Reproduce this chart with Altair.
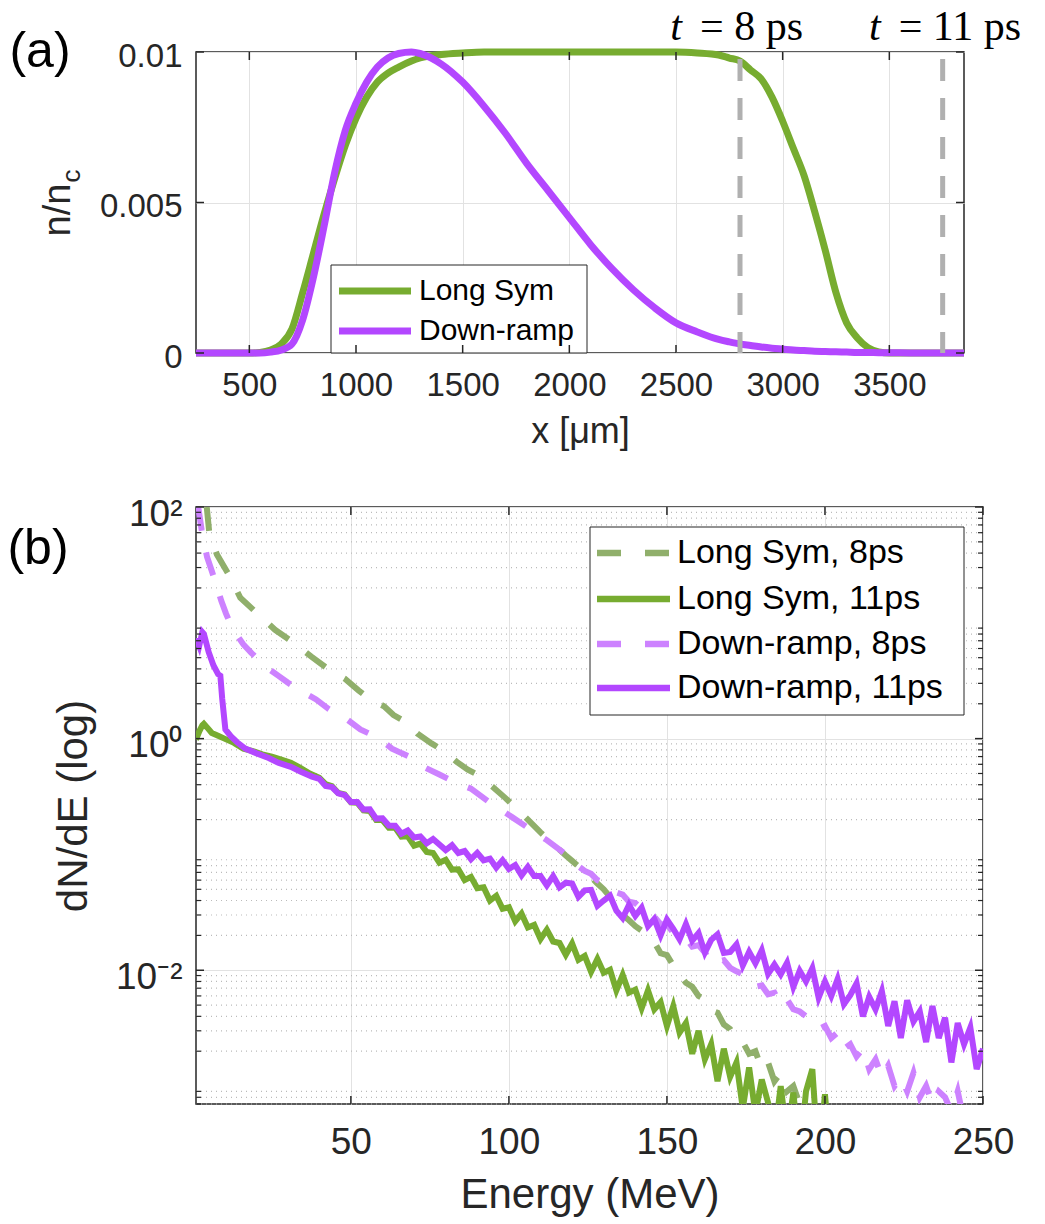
import altair as alt
import pandas as pd

FONT = "Liberation Sans"
SERIF = "Liberation Serif"
AX = "#262626"
GRID = "#E2E2E2"
GREEN = "#77AC30"
GREEN_LIGHT = "#90AF6B"
PURPLE = "#B347FF"
PURPLE_LIGHT = "#CD82FF"
GRAY = "#B0B0B0"

# ---------------- panel (a) data ----------------
x_um = [250, 400, 500, 550, 600, 650, 700, 750, 800, 850,
        900, 950, 1000, 1050, 1100, 1150, 1200, 1260, 1300, 1400,
        1500, 1600, 1700, 1800, 1900, 2000, 2100, 2200, 2300, 2400,
        2500, 2600, 2700, 2750, 2800, 2850, 2900, 2950, 3000, 3050,
        3100, 3150, 3200, 3250, 3300, 3350, 3400, 3450, 3500, 3600,
        3700, 3850]
long_sym = [0, 0, 0, 0.00002, 0.0001, 0.0003, 0.0008, 0.0020, 0.0033, 0.0046,
            0.0058, 0.0069, 0.0078, 0.0085, 0.0090, 0.0093, 0.0095, 0.0097, 0.0098, 0.00992,
            0.00997, 0.01, 0.01, 0.01, 0.01, 0.01, 0.01, 0.01, 0.01, 0.01,
            0.01, 0.00997, 0.0099, 0.0098, 0.0097, 0.0094, 0.0091, 0.0085, 0.0077, 0.0068,
            0.0059, 0.0047, 0.0034, 0.0020, 0.0010, 0.0005, 0.00018, 0.00004, 0, 0,
            0, 0]
down_ramp = [0, 0, 0, 0, 0.00003, 0.0001, 0.0003, 0.0011, 0.0025, 0.0042,
             0.0060, 0.0074, 0.0083, 0.0090, 0.0095, 0.0098, 0.00995, 0.0100, 0.00995, 0.0096,
             0.0090, 0.0082, 0.0073, 0.0063, 0.0054, 0.0045, 0.0036, 0.0028, 0.0021, 0.0015,
             0.0010, 0.0007, 0.00045, 0.00037, 0.0003, 0.00025, 0.0002, 0.00016, 0.00013, 0.0001,
             0.00008, 0.00006, 0.00005, 0.00004, 0.00003, 0.00002, 0.00002, 0.00001, 0.00001, 0,
             0, 0]
names_a = ["Long Sym", "Down-ramp"]
t_lines = [2800, 3750]
t_rest = ["=  8 ps", "=  11 ps"]
xa_ticks = [500, 1000, 1500, 2000, 2500, 3000, 3500]
ya_ticks = [0, 0.005, 0.01]

# ---------------- panel (b) data ----------------
ls8_E = [4.4, 5.2, 7.6, 11.4, 15, 20, 26, 32, 37.5, 42.5, 48, 52.5, 56, 60.5, 63.5,
         68, 71, 75.5, 79.5, 83.5, 87, 90, 95, 99, 106, 110, 113.7, 118, 120] + list(range(122, 198, 2))
ls8_V = [100, 60, 39, 26, 16.5, 12.3, 8.7, 6.7, 5.1, 4.05, 3.3, 2.6, 2.2, 1.9, 1.6,
         1.36, 1.11, 0.91, 0.78, 0.63, 0.54, 0.49, 0.38, 0.305, 0.20, 0.155, 0.125, 0.098, 0.088,
         0.079, 0.070, 0.064, 0.056, 0.050, 0.043, 0.037, 0.030, 0.027, 0.024,
         0.022, 0.019, 0.0175, 0.014, 0.0135, 0.011, 0.0092, 0.0078, 0.0072, 0.0060,
         0.0056, 0.0045, 0.0043, 0.0034, 0.0031, 0.0025, 0.0024, 0.0019, 0.0020, 0.0014,
         0.0016, 0.0011, 0.0013, 0.0009, 0.0010, 0.0007, 0.0008, 0.0005]

ls11_E = [1, 2, 3, 3.5, 4.5, 6, 8, 10, 13, 16, 19, 22, 25, 28, 31, 34, 37] + list(range(40, 204, 2))
ls11_V = [0.98, 1.15, 1.30, 1.34, 1.25, 1.12, 1.06, 1.0, 0.92, 0.82, 0.78, 0.73, 0.70, 0.66, 0.62, 0.56, 0.50,
          0.46, 0.404, 0.389, 0.339, 0.33, 0.282, 0.28, 0.24, 0.237, 0.198,
          0.198, 0.17, 0.171, 0.1425, 0.1435, 0.119, 0.124, 0.105, 0.103, 0.085,
          0.090, 0.074, 0.0745, 0.060, 0.064, 0.051, 0.052, 0.040, 0.044, 0.034,
          0.035, 0.0264, 0.0308, 0.0234, 0.0246, 0.0186, 0.0224, 0.0177, 0.0172, 0.0136,
          0.017, 0.0123, 0.0133, 0.0097, 0.0125, 0.0095, 0.0101, 0.0067, 0.0091, 0.0064,
          0.0068, 0.0047, 0.0067, 0.0046, 0.0053, 0.0033, 0.0049, 0.0029, 0.0035, 0.0019,
          0.003, 0.0017, 0.0023, 0.0011, 0.0021, 0.0012, 0.0016, 0.00064, 0.00145, 0.00058,
          0.00114, 0.00072, 0.00036, 0.001, 0.00036, 0.00088, 0.00025, 0.0009, 0.0014, 0.00022,
          0.00085, 0.0002]

dr8_E = [1.7, 2.8, 4.5, 6, 7.5, 9, 10.5, 12, 14, 16, 18.5, 21.5, 24, 27, 30, 33, 36, 39, 43, 46,
         49, 53, 56, 59, 63, 66, 69, 73, 78, 83, 88, 94, 101, 106, 112, 118] + list(range(120, 248, 2))
dr8_V = [100, 63, 37, 28, 21, 15.5, 12, 9.6, 7.8, 6.5, 5.5, 4.6, 4.0, 3.5, 3.05, 2.7, 2.42, 2.18, 1.8, 1.6,
         1.45, 1.2, 1.1, 1.0, 0.82, 0.75, 0.69, 0.57, 0.49, 0.42, 0.37, 0.28, 0.21, 0.17, 0.133, 0.10,
         0.086, 0.079, 0.072, 0.068, 0.060, 0.057, 0.052, 0.047, 0.045, 0.039,
         0.038, 0.034, 0.031, 0.029, 0.025, 0.025, 0.021, 0.020, 0.019, 0.016,
         0.0165, 0.0142, 0.015, 0.0118, 0.0122, 0.0105, 0.0098, 0.0092, 0.0086, 0.0072,
         0.0074, 0.0062, 0.0064, 0.0050, 0.0056, 0.0046, 0.0044, 0.0040, 0.0036, 0.0031,
         0.0033, 0.0026, 0.0029, 0.0021, 0.0023, 0.0018, 0.0021, 0.0014, 0.0017, 0.0012,
         0.0015, 0.0010, 0.0012, 0.0009, 0.0013, 0.0008, 0.0010, 0.0007, 0.0009, 0.0008,
         0.0006, 0.0009, 0.0005, 0.0004]

dr11_E = [1, 2, 3, 3.5, 5, 6.5, 8, 8.7, 9.3, 10.3, 12, 14, 16.6, 20, 24, 27, 31, 34, 37.7] + list(range(40, 252, 2))
dr11_V = [7.4, 6.3, 8.3, 8.0, 5.6, 4.3, 3.6, 3.5, 2.2, 1.2, 1.05, 0.93, 0.82, 0.75, 0.68, 0.62, 0.57, 0.52, 0.47,
          0.45, 0.39, 0.382, 0.337, 0.326, 0.284, 0.284, 0.244, 0.245, 0.204,
          0.205, 0.178, 0.177, 0.151, 0.161, 0.140, 0.143, 0.125, 0.136, 0.122,
          0.109, 0.120, 0.103, 0.107, 0.091, 0.103, 0.089, 0.092, 0.077, 0.089,
          0.075, 0.081, 0.066, 0.078, 0.065, 0.065, 0.054, 0.065, 0.052, 0.057,
          0.056, 0.043, 0.049, 0.0495, 0.036, 0.040, 0.044, 0.0327, 0.0282, 0.0366,
          0.0295, 0.0347, 0.024, 0.0277, 0.020, 0.0274, 0.0228, 0.0185, 0.025, 0.018,
          0.0209, 0.0142, 0.0183, 0.0204, 0.0141, 0.0144, 0.0167, 0.011, 0.0144, 0.0115,
          0.0149, 0.0093, 0.0112, 0.0092, 0.0116, 0.0072, 0.0099, 0.008, 0.0104, 0.0058,
          0.008, 0.006, 0.0084, 0.0051, 0.0061, 0.0077, 0.004, 0.0059, 0.0046, 0.0066,
          0.0033, 0.0054, 0.0026, 0.0055, 0.0036, 0.0044, 0.0024, 0.0049, 0.0026, 0.0039,
          0.0016, 0.0035, 0.0023, 0.0032, 0.0014, 0.0021]

names_b = ["Long Sym, 8ps", "Long Sym, 11ps", "Down-ramp, 8ps", "Down-ramp, 11ps"]
xb_ticks = [50, 100, 150, 200, 250]
yb_ticks = [0.01, 1, 100]
yb_minor = [k * 10.0 ** e for e in range(-4, 2) for k in range(2, 10) if 0.0007 <= k * 10.0 ** e <= 100]

for a, b in [(ls8_E, ls8_V), (ls11_E, ls11_V), (dr8_E, dr8_V), (dr11_E, dr11_V)]:
    assert len(a) == len(b), (len(a), len(b))

WA, HA = 768, 301
WB, HB = 787, 597
one = pd.DataFrame({"k": [0]})

# ---------------- panel (a) ----------------
xa = alt.Scale(domain=[250, 3850], nice=False, zero=False)
ya = alt.Scale(domain=[0, 0.01], nice=False, zero=False)
dfa = pd.DataFrame({"x": x_um, "ls": long_sym, "dr": down_ramp})

axis_xa = alt.Axis(values=xa_ticks, format="d", title="x [μm]", grid=True, gridColor=GRID,
                   ticks=False, domain=False, labelFont=FONT, labelFontSize=33, labelColor=AX,
                   labelPadding=16, labelFlush=False, labelOverlap=False, titleFont=FONT,
                   titleFontSize=36, titleFontWeight="normal", titleColor=AX, titlePadding=12)
axis_ya = alt.Axis(values=ya_ticks, format=".3~f", title=None, grid=True, gridColor=GRID,
                   ticks=False, domain=False, labelFont=FONT, labelFontSize=33, labelColor=AX,
                   labelPadding=14, labelOffset=4, labelOverlap=False)


def XA(f):
    return alt.X(f, scale=xa, axis=axis_xa)


def YA(f):
    return alt.Y(f, scale=ya, axis=axis_ya)


layers_a = []
layers_a.append(alt.Chart(dfa).mark_line(color=GREEN, strokeWidth=7, interpolate="monotone").encode(
    x=XA("x:Q"), y=YA("ls:Q")))
layers_a.append(alt.Chart(dfa).mark_line(color=PURPLE, strokeWidth=7, interpolate="monotone").encode(
    x=XA("x:Q"), y=YA("dr:Q")))
layers_a.append(alt.Chart(pd.DataFrame({"x": t_lines})).mark_rule(color=GRAY, strokeWidth=5, strokeDash=[22, 17]).encode(
    x=XA("x:Q"), y=alt.value(7), y2=alt.value(HA)))
for pos, rest, dxt, dxr in zip(t_lines, t_rest, [-58, -62], [-40, -44]):
    d = pd.DataFrame({"x": [pos]})
    layers_a.append(alt.Chart(d).mark_text(text="t", font=SERIF, fontSize=42, fontStyle="italic", align="right",
                                           baseline="alphabetic", dx=dxt, color="black").encode(
        x=XA("x:Q"), y=alt.value(-12)))
    layers_a.append(alt.Chart(d).mark_text(text=rest, font=SERIF, fontSize=42, align="left",
                                           baseline="alphabetic", dx=dxr, color="black").encode(
        x=XA("x:Q"), y=alt.value(-12)))
# legend (a)
layers_a.append(alt.Chart(one).mark_rect(fill="white", stroke=AX, strokeWidth=1).encode(
    x=alt.value(135), x2=alt.value(391), y=alt.value(213), y2=alt.value(HA)))
for i, (nm, col) in enumerate(zip(names_a, [GREEN, PURPLE])):
    yy = 239 + 40 * i
    layers_a.append(alt.Chart(one).mark_rule(color=col, strokeWidth=7).encode(
        x=alt.value(143), x2=alt.value(215), y=alt.value(yy)))
    layers_a.append(alt.Chart(one).mark_text(text=nm, font=FONT, fontSize=30, align="left", baseline="middle",
                                             color="black").encode(x=alt.value(223), y=alt.value(yy)))
# inner ticks (a)
dxt_a = pd.DataFrame({"x": xa_ticks})
dyt_a = pd.DataFrame({"y": ya_ticks})
for y0, y1 in [(0, 8), (HA - 8, HA)]:
    layers_a.append(alt.Chart(dxt_a).mark_rule(color=AX, strokeWidth=1.5).encode(
        x=XA("x:Q"), y=alt.value(y0), y2=alt.value(y1)))
for x0, x1 in [(0, 8), (WA - 8, WA)]:
    layers_a.append(alt.Chart(dyt_a).mark_rule(color=AX, strokeWidth=1.5).encode(
        y=YA("y:Q"), x=alt.value(x0), x2=alt.value(x1)))
# y title and panel tag
layers_a.append(alt.Chart(one).mark_text(text="n/n", font=FONT, fontSize=38, angle=270, align="center",
                                         baseline="middle", color=AX).encode(x=alt.value(-137), y=alt.value(158)))
layers_a.append(alt.Chart(one).mark_text(text="c", font=FONT, fontSize=26, angle=270, align="center",
                                         baseline="middle", color=AX).encode(x=alt.value(-124), y=alt.value(124)))
layers_a.append(alt.Chart(one).mark_text(text="(a)", font=FONT, fontSize=50, align="center",
                                         baseline="middle", color="black").encode(x=alt.value(-156), y=alt.value(0)))

top = alt.layer(*layers_a).properties(width=WA, height=HA)

# ---------------- panel (b) ----------------
xb = alt.Scale(domain=[1, 250], nice=False, zero=False)
yb = alt.Scale(type="log", domain=[0.0007, 100], nice=False)

axis_xb = alt.Axis(values=xb_ticks, format="d", title="Energy (MeV)", grid=True, gridColor=GRID,
                   ticks=False, domain=False, labelFont=FONT, labelFontSize=37, labelColor=AX,
                   labelPadding=20, labelFlush=False, labelOverlap=False, titleFont=FONT,
                   titleFontSize=42, titleFontWeight="normal", titleColor=AX, titlePadding=14)
axis_yb = alt.Axis(values=yb_ticks, title="dN/dE (log)", grid=True, gridColor=GRID,
                   labelExpr="datum.value >= 50 ? '10²' : (datum.value >= 0.5 ? '10⁰' : '10⁻²')",
                   ticks=False, domain=False, labelFont=FONT, labelFontSize=37, labelColor=AX,
                   labelPadding=14, labelOffset=7, labelOverlap=False, titleFont=FONT,
                   titleFontSize=42, titleFontWeight="normal", titleColor=AX, titlePadding=20)


def XB(f):
    return alt.X(f, scale=xb, axis=axis_xb)


def YB(f):
    return alt.Y(f, scale=yb, axis=axis_yb)


layers_b = []
layers_b.append(alt.Chart(pd.DataFrame({"y": yb_minor})).mark_rule(color="#BBBBBB", strokeWidth=1.2,
                                                                    strokeDash=[1, 4]).encode(
    y=YB("y:Q"), x=alt.value(0), x2=alt.value(WB)))

series_b = [(ls8_E, ls8_V, GREEN_LIGHT, [24, 22]),
            (ls11_E, ls11_V, GREEN, [1, 0]),
            (dr8_E, dr8_V, PURPLE_LIGHT, [24, 22]),
            (dr11_E, dr11_V, PURPLE, [1, 0])]
for E, V, col, dash in series_b:
    d = pd.DataFrame({"E": E, "v": V})
    props = dict(color=col, strokeWidth=6, clip=True)
    if dash != [1, 0]:
        props["strokeDash"] = dash
    layers_b.append(alt.Chart(d).mark_line(**props).encode(x=XB("E:Q"), y=YB("v:Q")))

# legend (b)
layers_b.append(alt.Chart(one).mark_rect(fill="white", stroke=AX, strokeWidth=1).encode(
    x=alt.value(394), x2=alt.value(768), y=alt.value(20), y2=alt.value(208)))
for nm, (E, V, col, dash), yy in zip(names_b, series_b, [46, 92, 137, 181]):
    props = dict(color=col, strokeWidth=6.5)
    if dash != [1, 0]:
        props["strokeDash"] = [24, 24]
    layers_b.append(alt.Chart(one).mark_rule(**props).encode(
        x=alt.value(401), x2=alt.value(474), y=alt.value(yy)))
    layers_b.append(alt.Chart(one).mark_text(text=nm, font=FONT, fontSize=34, align="left", baseline="middle",
                                             color="black").encode(x=alt.value(481), y=alt.value(yy)))

# inner ticks (b)
dxt_b = pd.DataFrame({"x": xb_ticks})
dyt_b = pd.DataFrame({"y": yb_ticks})
dym_b = pd.DataFrame({"y": yb_minor})
for y0, y1 in [(0, 8), (HB - 8, HB)]:
    layers_b.append(alt.Chart(dxt_b).mark_rule(color=AX, strokeWidth=1.5).encode(
        x=XB("x:Q"), y=alt.value(y0), y2=alt.value(y1)))
for x0, x1 in [(0, 8), (WB - 8, WB)]:
    layers_b.append(alt.Chart(dyt_b).mark_rule(color=AX, strokeWidth=1.5).encode(
        y=YB("y:Q"), x=alt.value(x0), x2=alt.value(x1)))
for x0, x1 in [(0, 5), (WB - 5, WB)]:
    layers_b.append(alt.Chart(dym_b).mark_rule(color=AX, strokeWidth=1.2).encode(
        y=YB("y:Q"), x=alt.value(x0), x2=alt.value(x1)))
layers_b.append(alt.Chart(one).mark_text(text="(b)", font=FONT, fontSize=50, align="center",
                                         baseline="middle", color="black").encode(x=alt.value(-158), y=alt.value(42)))

bottom = alt.layer(*layers_b).properties(width=WB, height=HB)

chart = alt.vconcat(top, bottom, spacing=44).properties(
    padding={"left": 6, "top": 5, "right": 5, "bottom": 5}, background="white"
).configure_view(stroke=AX, strokeWidth=1.5)

chart.save("out.html", embed_options={"renderer": "svg", "actions": False})
